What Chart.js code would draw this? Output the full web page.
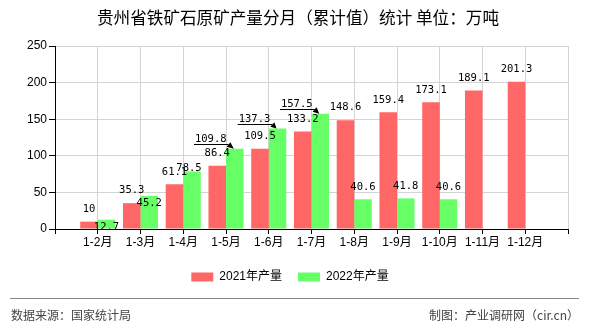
<!DOCTYPE html>
<html>
<head>
<meta charset="utf-8">
<script src="https://cdn.jsdelivr.net/npm/chart.js@4"></script>
<style>
    body { margin: 0; background: #fff; }
    #wrap { position: relative; width: 590px; height: 330px; }
    #title { position: absolute; left: 0; width: 596px; top: 7px; text-align: center;
             font: 16.6px "Noto Sans CJK SC", sans-serif; line-height: 20px; color: #000; }
    #foot-line { position: absolute; left: 10px; width: 569px; top: 298px; border-top: 1px solid #888; }
    .foot { position: absolute; top: 307px; font: 12px "Noto Sans CJK SC", sans-serif; line-height: 16px; color: #444; }
</style>
</head>
<body>
<div id="wrap">
    <canvas id="chart" width="590" height="330"></canvas>
    <div id="title">贵州省铁矿石原矿产量分月（累计值）统计 单位：万吨</div>
    <div id="foot-line"></div>
    <div class="foot" style="left:11px">数据来源：国家统计局</div>
    <div class="foot" style="right:11px">制图：产业调研网（cir.cn）</div>
</div>
<script>
const MONTHS = ['1-2月', '1-3月', '1-4月', '1-5月', '1-6月', '1-7月', '1-8月', '1-9月', '1-10月', '1-11月', '1-12月'];
const PROD_2021 = [10, 35.3, 61.1, 86.4, 109.5, 133.2, 148.6, 159.4, 173.1, 189.1, 201.3];
const PROD_2022 = [12.7, 45.2, 78.5, 109.8, 137.3, 157.5, 40.6, 41.8, 40.6, null, null];
const Y_TICKS = [0, 50, 100, 150, 200, 250];

// 2022年标签避让（相对默认位置的偏移）
const NUDGE_2022 = {
    0: { dy: 20 },
    1: { dy: 20 },
    2: { dx: -3, dy: 9 },
    3: { dx: -24, dy: 3, leader: true },
    4: { dx: -23, dy: 3, leader: true },
    5: { dx: -23.5, dy: 3, leader: true }
};

const FONT = '"Liberation Sans", "Noto Sans CJK SC", sans-serif';

// 两端留空位，让月份落在网格线上
const pad = arr => [null, ...arr, null];

const valueLabels = {
    id: 'valueLabels',
    afterDatasetsDraw(chart) {
        const ctx = chart.ctx;
        ctx.save();
        ctx.font = '10.5px "DejaVu Sans Mono", monospace';
        ctx.fillStyle = '#000';
        ctx.strokeStyle = '#000';
        ctx.lineWidth = 1;
        ctx.textAlign = 'center';
        ctx.textBaseline = 'middle';
        chart.data.datasets.forEach((ds, di) => {
            const meta = chart.getDatasetMeta(di);
            const nudges = di === 1 ? NUDGE_2022 : {};
            meta.data.forEach((bar, i) => {
                const v = ds.data[i];
                if (v == null) return;
                const n = nudges[i - 1] || {};
                const x = bar.x + (n.dx || 0);
                const y = bar.y - 12.5 + (n.dy || 0);
                const txt = String(v);
                ctx.fillText(txt, x, y);
                if (n.leader) {
                    // 引导线 + 箭头指向柱顶
                    const w = ctx.measureText(txt).width;
                    const ly = Math.round(y + 5) + 0.5;
                    const x0 = x - w / 2 - 1, x1 = x + w / 2 + 2;
                    const tx = bar.x - 1, ty = bar.y;
                    ctx.beginPath();
                    ctx.moveTo(x0, ly);
                    ctx.lineTo(x1, ly);
                    ctx.stroke();
                    const a = Math.atan2(ty - ly, tx - x1);
                    ctx.beginPath();
                    ctx.moveTo(tx, ty);
                    ctx.lineTo(x1 + 3 * Math.sin(a), ly - 3 * Math.cos(a));
                    ctx.lineTo(x1 - 3 * Math.sin(a), ly + 3 * Math.cos(a));
                    ctx.closePath();
                    ctx.fill();
                }
            });
        });
        ctx.restore();
    }
};

Chart.defaults.font.family = FONT;

new Chart(document.getElementById('chart'), {
    type: 'bar',
    data: {
        labels: ['', ...MONTHS, ''],
        datasets: [
            { label: '2021年产量', data: pad(PROD_2021), backgroundColor: '#ff6666', borderWidth: 0 },
            { label: '2022年产量', data: pad(PROD_2022), backgroundColor: '#66ff66', borderWidth: 0 }
        ]
    },
    options: {
        responsive: false,
        animation: false,
        layout: { padding: { top: 46, right: 22, bottom: 37, left: 12 } },
        datasets: { bar: { barPercentage: 1, categoryPercentage: 0.82 } },
        plugins: {
            title: { display: false },
            tooltip: { enabled: false },
            legend: {
                position: 'bottom',
                labels: { boxWidth: 22, boxHeight: 9, padding: 16, color: '#000', font: { size: 12, family: FONT } }
            }
        },
        scales: {
            x: {
                offset: false,
                grid: { offset: false, color: '#d4d4d4', tickColor: '#000', tickLength: 5 },
                border: { color: '#000' },
                ticks: { autoSkip: false, maxRotation: 0, padding: 1, color: '#000', font: { size: 12 } },
                afterFit: scale => { scale.height = 26; }
            },
            y: {
                min: 0,
                max: 250,
                afterBuildTicks: scale => { scale.ticks = Y_TICKS.map(v => ({ value: v })); },
                grid: { color: '#d4d4d4', tickColor: '#000', tickLength: 6 },
                border: { color: '#000' },
                ticks: { padding: 2, color: '#000', font: { size: 12 } },
                afterFit: scale => { scale.width = 43; }
            }
        }
    },
    plugins: [valueLabels]
});
</script>
</body>
</html>
